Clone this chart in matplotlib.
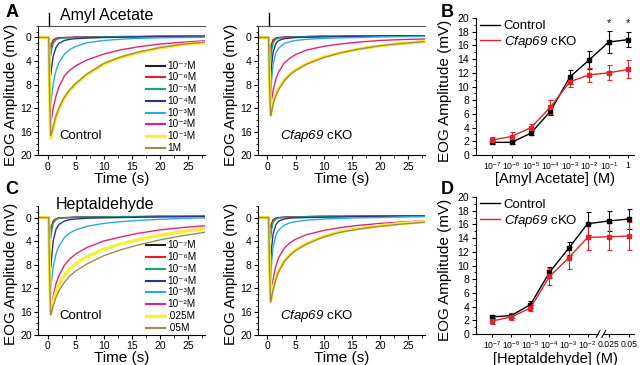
import numpy as np
import matplotlib
matplotlib.use('Agg')
import matplotlib.pyplot as plt
import matplotlib.transforms as mtransforms
from matplotlib.ticker import MultipleLocator
from matplotlib.lines import Line2D

plt.rcParams['font.family'] = ['Liberation Sans', 'DejaVu Sans']
plt.rcParams['mathtext.fontset'] = 'custom'
plt.rcParams['mathtext.rm'] = 'Liberation Sans'
plt.rcParams['mathtext.it'] = 'Liberation Sans:italic'
plt.rcParams['mathtext.bf'] = 'Liberation Sans:bold'
# \mathcal is used for the gene name so that its digits stay italic too
plt.rcParams['mathtext.cal'] = 'Liberation Sans:italic'

# ---- EOG traces (mV, positive = downward deflection) ----
time = [-1.7, 0.2, 0.35, 0.55, 0.75, 1.0, 1.5, 2, 3, 4, 5, 7, 10, 13, 16, 20, 24, 28]

amyl_labels = ['10⁻⁷M', '10⁻⁶M', '10⁻⁵M', '10⁻⁴M', '10⁻³M', '10⁻²M', '10⁻¹M', '1M']
hept_labels = ['10⁻⁷M', '10⁻⁶M', '10⁻⁵M', '10⁻⁴M', '10⁻³M', '10⁻²M', '.025M', '.05M']

# amyl acetate, control
amyl_ctrl_m7 = [0, 0, 1.0, 1.8, 1.0, 0.45, 0.15, 0.05, 0, 0, -0.05, -0.1, -0.1, -0.15, -0.15, -0.2, -0.2, -0.2]
amyl_ctrl_m6 = [0, 0, 1.0, 1.9, 1.1, 0.5, 0.2, 0.1, 0.02, 0, -0.05, -0.1, -0.1, -0.15, -0.15, -0.2, -0.2, -0.2]
amyl_ctrl_m5 = [0, 0, 1.7, 3.1, 2.0, 1.0, 0.4, 0.2, 0.08, 0.03, 0, -0.05, -0.1, -0.15, -0.15, -0.2, -0.2, -0.2]
amyl_ctrl_m4 = [0, 0, 3.5, 6.4, 4.8, 3.2, 1.7, 1.0, 0.5, 0.3, 0.2, 0.1, 0, -0.05, -0.1, -0.15, -0.2, -0.2]
amyl_ctrl_m3 = [0, 0, 6.0, 11.3, 9.8, 7.8, 5.6, 4.3, 2.8, 2.0, 1.5, 0.9, 0.5, 0.3, 0.15, 0.05, 0, -0.05]
amyl_ctrl_m2 = [0, 0, 8.0, 14.6, 13.6, 12.0, 9.9, 8.4, 6.5, 5.5, 4.8, 3.8, 2.8, 2.1, 1.6, 1.1, 0.8, 0.55]
amyl_ctrl_m1 = [0, 0, 9.0, 17.1, 16.4, 15.3, 13.4, 12.1, 10.2, 8.9, 7.9, 6.3, 4.5, 3.4, 2.6, 1.8, 1.2, 0.85]
amyl_ctrl_1m = [0, 0, 9.0, 16.6, 16.1, 15.1, 13.3, 12.0, 10.1, 8.8, 7.8, 6.2, 4.4, 3.3, 2.5, 1.7, 1.15, 0.8]

# amyl acetate, Cfap69 cKO
amyl_ko_m7 = [0, 0, 1.1, 2.1, 1.1, 0.4, 0.1, 0, -0.05, -0.1, -0.1, -0.15, -0.2, -0.2, -0.25, -0.25, -0.3, -0.3]
amyl_ko_m6 = [0, 0, 1.4, 2.6, 1.4, 0.5, 0.15, 0.05, -0.05, -0.1, -0.1, -0.15, -0.2, -0.2, -0.25, -0.25, -0.3, -0.3]
amyl_ko_m5 = [0, 0, 2.2, 4.0, 2.2, 0.9, 0.3, 0.1, 0, -0.05, -0.1, -0.15, -0.2, -0.2, -0.25, -0.25, -0.3, -0.3]
amyl_ko_m4 = [0, 0, 4.0, 7.3, 4.5, 2.5, 1.0, 0.5, 0.2, 0.1, 0, -0.05, -0.1, -0.15, -0.2, -0.25, -0.3, -0.3]
amyl_ko_m3 = [0, 0, 5.8, 10.7, 7.0, 4.5, 2.6, 1.8, 1.0, 0.7, 0.5, 0.3, 0.15, 0.05, 0, -0.1, -0.15, -0.2]
amyl_ko_m2 = [0, 0, 6.3, 11.7, 10.5, 9.0, 7.0, 5.8, 4.3, 3.5, 2.9, 2.1, 1.5, 1.1, 0.8, 0.5, 0.35, 0.25]
amyl_ko_m1 = [0, 0, 7.0, 13.0, 12.3, 11.1, 9.6, 8.6, 7.2, 6.2, 5.5, 4.4, 3.3, 2.6, 2.0, 1.4, 1.0, 0.7]
amyl_ko_1m = [0, 0, 7.2, 13.3, 12.5, 11.3, 9.8, 8.8, 7.3, 6.3, 5.6, 4.5, 3.4, 2.6, 2.0, 1.4, 1.0, 0.7]

# heptaldehyde, control
hept_ctrl_m7 = [0, 0, 1.4, 2.5, 1.4, 0.6, 0.2, 0.08, 0.02, 0, -0.05, -0.1, -0.1, -0.15, -0.15, -0.2, -0.2, -0.2]
hept_ctrl_m6 = [0, 0, 1.5, 2.7, 1.5, 0.7, 0.25, 0.1, 0.03, 0, -0.05, -0.1, -0.1, -0.15, -0.15, -0.2, -0.2, -0.2]
hept_ctrl_m5 = [0, 0, 2.0, 3.6, 2.2, 1.0, 0.35, 0.15, 0.05, 0, -0.05, -0.1, -0.1, -0.15, -0.15, -0.2, -0.2, -0.2]
hept_ctrl_m4 = [0, 0, 4.8, 8.6, 6.5, 4.0, 2.0, 1.2, 0.6, 0.35, 0.25, 0.12, 0.05, 0, -0.05, -0.1, -0.15, -0.2]
hept_ctrl_m3 = [0, 0, 6.5, 11.8, 10.4, 8.4, 6.2, 4.9, 3.4, 2.6, 2.1, 1.5, 1.0, 0.7, 0.5, 0.3, 0.15, 0.05]
hept_ctrl_m2 = [0, 0, 9.0, 16.0, 15.0, 13.4, 11.3, 9.9, 8.1, 7.0, 6.2, 5.1, 4.0, 3.3, 2.7, 2.1, 1.7, 1.4]
hept_ctrl_025 = [0, 0, 9.0, 16.3, 15.6, 14.4, 12.7, 11.5, 9.8, 8.7, 7.9, 6.7, 5.4, 4.5, 3.8, 3.0, 2.4, 1.9]
hept_ctrl_05 = [0, 0, 9.0, 16.6, 16.0, 15.0, 13.6, 12.5, 11.0, 9.9, 9.1, 7.9, 6.5, 5.5, 4.7, 3.8, 3.1, 2.5]

# heptaldehyde, Cfap69 cKO
hept_ko_m7 = [0, 0, 1.1, 2.0, 1.0, 0.4, 0.1, 0, -0.05, -0.1, -0.1, -0.15, -0.2, -0.2, -0.25, -0.25, -0.3, -0.3]
hept_ko_m6 = [0, 0, 1.4, 2.5, 1.3, 0.5, 0.15, 0.05, -0.05, -0.1, -0.1, -0.15, -0.2, -0.2, -0.25, -0.25, -0.3, -0.3]
hept_ko_m5 = [0, 0, 2.0, 3.6, 2.0, 0.8, 0.25, 0.1, 0, -0.05, -0.1, -0.15, -0.2, -0.2, -0.25, -0.25, -0.3, -0.3]
hept_ko_m4 = [0, 0, 4.5, 8.0, 5.0, 2.8, 1.2, 0.6, 0.25, 0.1, 0.05, 0, -0.05, -0.1, -0.15, -0.2, -0.25, -0.25]
hept_ko_m3 = [0, 0, 6.0, 11.0, 7.5, 5.0, 3.0, 2.1, 1.3, 0.9, 0.7, 0.45, 0.25, 0.15, 0.05, 0, -0.1, -0.15]
hept_ko_m2 = [0, 0, 7.8, 14.2, 12.5, 10.5, 8.2, 6.8, 5.2, 4.3, 3.7, 2.9, 2.2, 1.7, 1.35, 1.0, 0.75, 0.55]
hept_ko_025 = [0, 0, 7.8, 14.2, 13.3, 12.0, 10.2, 9.0, 7.4, 6.3, 5.5, 4.4, 3.2, 2.4, 1.9, 1.4, 1.0, 0.7]
hept_ko_05 = [0, 0, 7.9, 14.4, 13.5, 12.3, 10.5, 9.2, 7.5, 6.4, 5.6, 4.5, 3.3, 2.5, 2.0, 1.5, 1.1, 0.8]

# ---- dose-response (mean +/- error, mV) ----
amyl_conc = [r'$10^{-7}$', r'$10^{-6}$', r'$10^{-5}$', r'$10^{-4}$',
             r'$10^{-3}$', r'$10^{-2}$', r'$10^{-1}$', '1']
amyl_ctrl_mean = [1.85, 1.85, 3.2, 6.4, 11.4, 13.9, 16.5, 16.85]
amyl_ctrl_err = [0.3, 0.2, 0.3, 0.6, 1.0, 1.35, 1.6, 1.1]
amyl_ko_mean = [2.2, 2.7, 4.0, 7.0, 10.7, 11.7, 12.0, 12.5]
amyl_ko_err = [0.4, 0.6, 0.5, 1.0, 0.8, 1.0, 1.1, 1.3]

hept_conc = [r'$10^{-7}$', r'$10^{-6}$', r'$10^{-5}$', r'$10^{-4}$',
             r'$10^{-3}$', r'$10^{-2}$', '0.025', '0.05']
hept_ctrl_mean = [2.5, 2.7, 4.3, 9.0, 12.5, 16.1, 16.5, 16.8]
hept_ctrl_err = [0.3, 0.4, 0.5, 0.8, 1.0, 1.7, 1.5, 1.5]
hept_ko_mean = [1.9, 2.5, 3.8, 8.4, 11.1, 14.1, 14.2, 14.3]
hept_ko_err = [0.4, 0.5, 0.5, 1.3, 1.6, 1.9, 2.0, 2.0]

colors = ['#231F20', '#ED1C24', '#1BA37A', '#2E3192', '#29ABE2', '#E6207A', '#FAEE3C', '#A08A4C']
RED = '#E3222B'
KO_TEXT = r'$\mathcal{Cfap69}$ cKO'


def trace_panel(ax, traces, labels=None, note=None, stim=False):
    for y, c in zip(traces, colors):
        lw = 2.4 if c == '#FAEE3C' else 1.0
        ax.plot(time, y, color=c, lw=lw, solid_joinstyle='round')
    ax.set_xlim(-1.7, 28)
    ax.set_ylim(20, -2)
    ax.xaxis.set_major_locator(MultipleLocator(5))
    ax.xaxis.set_minor_locator(MultipleLocator(2.5))
    ax.yaxis.set_minor_locator(MultipleLocator(1))
    ax.set_yticks([0, 4, 8, 12, 16, 20])
    ax.tick_params(which='major', length=3, width=0.8, labelsize=7.5, pad=1.5)
    ax.tick_params(which='minor', length=1.8, width=0.6)
    ax.spines['right'].set_visible(False)
    if stim:
        ax.spines['top'].set_color('#555555')
        trans = mtransforms.blended_transform_factory(ax.transData, ax.transAxes)
        ax.plot([0.25, 0.25], [1.0, 1.1], color='k', lw=1.0, transform=trans, clip_on=False)
    else:
        ax.spines['top'].set_visible(False)
    for s in ['left', 'bottom']:
        ax.spines[s].set_linewidth(0.8)
    ax.set_ylabel('EOG Amplitude (mV)', fontsize=11)
    ax.yaxis.set_label_coords(-0.12, 0.47)
    ax.set_xlabel('Time (s)', fontsize=11)
    ax.xaxis.set_label_coords(0.5, -0.125)
    if labels is not None:
        for i, (c, lab) in enumerate(zip(colors, labels)):
            yy = (7.5 + (7 - i) * 11.8) / 130.0
            ax.plot([0.645, 0.76], [yy, yy], transform=ax.transAxes, color=c,
                    lw=2.4 if c == '#FAEE3C' else 1.5, clip_on=False)
            ax.text(0.772, yy, lab, transform=ax.transAxes, fontsize=7.2, va='center')
    if note is not None:
        ax.text(0.13, 0.15, note, transform=ax.transAxes, fontsize=9.5, va='center')


def dose_panel(ax, x, ctrl, ctrl_e, ko, ko_e, ticklabels, xlabel):
    ax.errorbar(x, ctrl, yerr=ctrl_e, color='k', marker='s', ms=2.8, lw=1.0,
                elinewidth=0.8, capsize=1.8, capthick=0.8)
    ax.errorbar(x, ko, yerr=ko_e, color=RED, marker='s', ms=2.8, lw=1.0,
                elinewidth=0.8, capsize=1.8, capthick=0.8)
    ax.set_ylim(0, 20)
    ax.yaxis.set_major_locator(MultipleLocator(2))
    ax.yaxis.set_minor_locator(MultipleLocator(1))
    ax.set_xticks(x)
    ax.set_xticklabels(ticklabels, fontsize=6.2)
    ax.tick_params(axis='y', which='major', length=3, width=0.8, labelsize=7.5, pad=2)
    ax.tick_params(axis='y', which='minor', length=1.8, width=0.6)
    ax.tick_params(axis='x', length=2.5, width=0.8, pad=1.5)
    ax.spines['top'].set_visible(False)
    ax.spines['right'].set_visible(False)
    for s in ['left', 'bottom']:
        ax.spines[s].set_linewidth(0.8)
    ax.set_ylabel('EOG Amplitude (mV)', fontsize=11)
    ax.yaxis.set_label_coords(-0.15, 0.47)
    ax.set_xlabel(xlabel, fontsize=10.5)
    handles = [Line2D([], [], color='k', lw=1.0), Line2D([], [], color=RED, lw=1.0)]
    ax.legend(handles, ['Control', KO_TEXT], loc='upper left',
              bbox_to_anchor=(-0.01, 1.025), frameon=False, fontsize=9.5,
              handlelength=1.5, handletextpad=0.3, labelspacing=0.15, borderaxespad=0)


fig = plt.figure(figsize=(6.4, 3.65), dpi=100)

axA1 = fig.add_axes([0.0594, 0.574, 0.261, 0.3556])
axA2 = fig.add_axes([0.403, 0.574, 0.261, 0.3556])
axB = fig.add_axes([0.744, 0.5753, 0.247, 0.3753])
axC1 = fig.add_axes([0.0594, 0.0822, 0.261, 0.354])
axC2 = fig.add_axes([0.403, 0.0822, 0.261, 0.354])
axD = fig.add_axes([0.744, 0.0849, 0.247, 0.3753])

trace_panel(axA1, [amyl_ctrl_m7, amyl_ctrl_m6, amyl_ctrl_m5, amyl_ctrl_m4,
                   amyl_ctrl_m3, amyl_ctrl_m2, amyl_ctrl_m1, amyl_ctrl_1m],
            labels=amyl_labels, note='Control', stim=True)
trace_panel(axA2, [amyl_ko_m7, amyl_ko_m6, amyl_ko_m5, amyl_ko_m4,
                   amyl_ko_m3, amyl_ko_m2, amyl_ko_m1, amyl_ko_1m],
            note=KO_TEXT, stim=True)
trace_panel(axC1, [hept_ctrl_m7, hept_ctrl_m6, hept_ctrl_m5, hept_ctrl_m4,
                   hept_ctrl_m3, hept_ctrl_m2, hept_ctrl_025, hept_ctrl_05],
            labels=hept_labels, note='Control')
trace_panel(axC2, [hept_ko_m7, hept_ko_m6, hept_ko_m5, hept_ko_m4,
                   hept_ko_m3, hept_ko_m2, hept_ko_025, hept_ko_05],
            note=KO_TEXT)

xb = np.arange(len(amyl_conc))
dose_panel(axB, xb, amyl_ctrl_mean, amyl_ctrl_err, amyl_ko_mean, amyl_ko_err,
           amyl_conc, '[Amyl Acetate] (M)')
axB.set_xlim(-0.82, 7.31)
axB.xaxis.set_label_coords(0.5, -0.125)
for i in (6, 7):
    axB.text(xb[i], 19.2, '*', ha='center', va='center', fontsize=8)

xd = np.r_[np.arange(6), 6.1, 7.2]
dose_panel(axD, xd, hept_ctrl_mean, hept_ctrl_err, hept_ko_mean, hept_ko_err,
           hept_conc, '[Heptaldehyde] (M)')
axD.set_xlim(-0.85, 7.45)
axD.xaxis.set_label_coords(0.5, -0.128)
axD.spines['bottom'].set_bounds(-0.85, 5.55)
transD = mtransforms.blended_transform_factory(axD.transData, axD.transAxes)
axD.plot([5.85, 7.45], [0, 0], color='k', lw=0.8, transform=transD, clip_on=False)
for x0 in (5.45, 5.75):
    axD.plot([x0, x0 + 0.2], [-0.025, 0.025], color='k', lw=0.8, transform=transD, clip_on=False)

# titles and panel letters
fig.text(0.166, 0.958, 'Amyl Acetate', fontsize=11.5, ha='center', va='center')
fig.text(0.164, 0.44, 'Heptaldehyde', fontsize=11.5, ha='center', va='center')
for lab, x, y in [('A', 0.008, 0.967), ('B', 0.689, 0.967), ('C', 0.008, 0.482), ('D', 0.689, 0.482)]:
    fig.text(x, y, lab, fontsize=13, fontweight='bold', ha='left', va='center')

fig.savefig('out.png', dpi=100)
